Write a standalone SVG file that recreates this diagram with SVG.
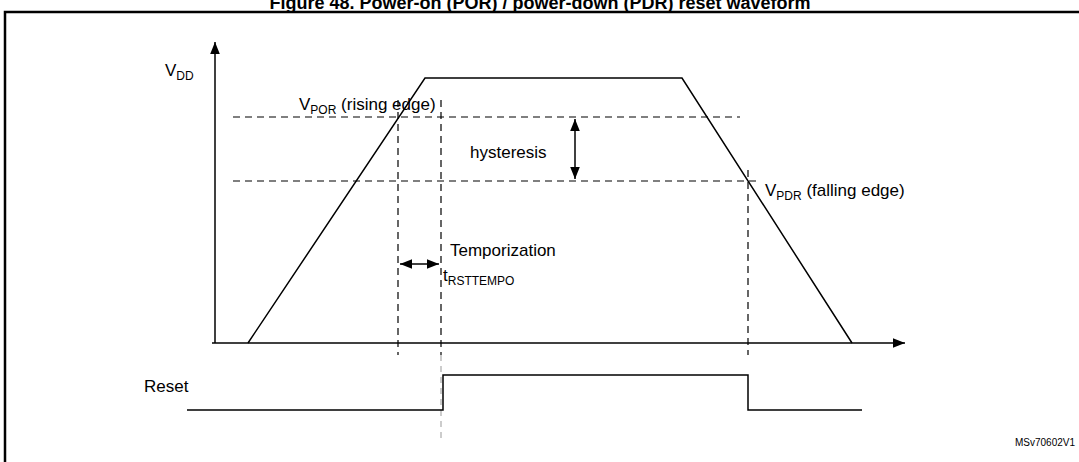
<svg xmlns="http://www.w3.org/2000/svg" width="1079" height="462" viewBox="0 0 1079 462">
<style>
text{font-family:"Liberation Sans",Arial,sans-serif;fill:#000}
.l{stroke:#000;stroke-width:1.5;fill:none}
.d{stroke:#000;stroke-width:1.2;fill:none;stroke-dasharray:7,5}
.lbl{font-size:17px}
.sub{font-size:12px}
</style>
<defs>
<marker id="a" viewBox="0 0 10 10" refX="10" refY="5" markerWidth="8" markerHeight="8" orient="auto-start-reverse"><path d="M0,1 L10,5 L0,9 Z" fill="#000"/></marker>
</defs>
<rect width="1079" height="462" fill="#fff"/>
<text x="540" y="9" text-anchor="middle" font-weight="bold" font-size="18">Figure 48. Power-on (POR) / power-down (PDR) reset waveform</text>
<path d="M5,470 V12 H1079" stroke="#000" stroke-width="2.5" fill="none"/>
<g id="connectors">
<line class="l" x1="215" y1="343" x2="215" y2="42" marker-end="url(#a)"/>
<line class="l" x1="212" y1="343" x2="905" y2="343" marker-end="url(#a)"/>
<polyline class="l" points="248,343 425,78 682,78 852,343"/>
<line class="d" x1="233" y1="117" x2="740" y2="117"/>
<line class="d" x1="233" y1="181" x2="760" y2="181"/>
<line class="d" x1="398" y1="100" x2="398" y2="355"/>
<line class="d" x1="441" y1="100" x2="441" y2="355"/>
<line stroke="#999" stroke-width="1" stroke-dasharray="6,5" x1="441" y1="355" x2="441" y2="440"/>
<line class="d" x1="748" y1="170" x2="748" y2="355"/>
<line class="l" x1="575" y1="119" x2="575" y2="179" marker-start="url(#a)" marker-end="url(#a)"/>
<line class="l" x1="400" y1="264" x2="439" y2="264" marker-start="url(#a)" marker-end="url(#a)"/>
<polyline class="l" points="187,410 443,410 443,375 748,375 748,410 862,410"/>
</g>
<g id="vdd"><text class="lbl" x="165" y="76">V<tspan class="sub" dy="4">DD</tspan></text></g>
<g id="vpor"><text class="lbl" x="299" y="110">V<tspan class="sub" dy="4">POR</tspan><tspan dy="-4"> (rising edge)</tspan></text></g>
<g id="vpdr"><text class="lbl" x="765" y="196">V<tspan class="sub" dy="4">PDR</tspan><tspan dy="-4"> (falling edge)</tspan></text></g>
<g id="hyst"><text class="lbl" x="470" y="158">hysteresis</text></g>
<g id="tempo"><text class="lbl" x="450" y="256">Temporization</text><text class="lbl" x="443" y="281">t<tspan class="sub" dy="4">RSTTEMPO</tspan></text></g>
<g id="reset"><text class="lbl" x="144" y="392">Reset</text></g>
<text x="1075" y="446" text-anchor="end" font-size="10">MSv70602V1</text>
</svg>
